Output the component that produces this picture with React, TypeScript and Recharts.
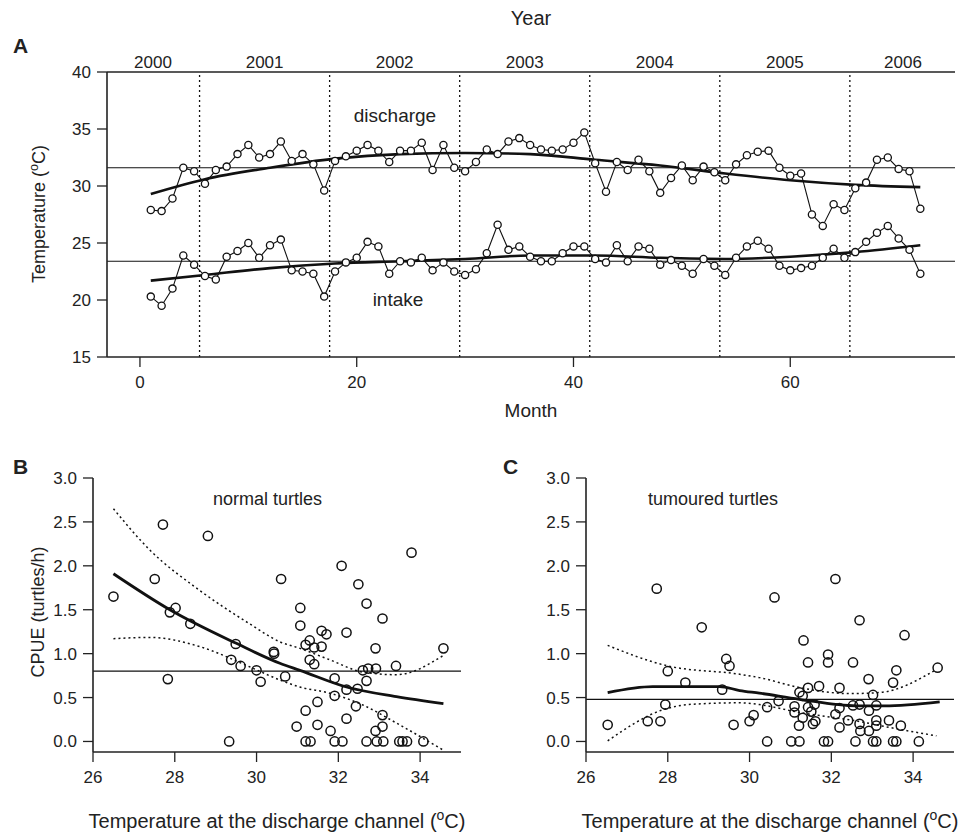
import React from 'react';
import { ComposedChart, Line, Scatter, XAxis, YAxis, ReferenceLine } from 'recharts';

const FONT = '"Liberation Sans", Arial, Helvetica, sans-serif';
const INK = '#222';

// ---- panel A: monthly temperatures ----
const months = [
  1, 2, 3, 4, 5, 6, 7, 8, 9, 10, 11, 12, 13, 14, 15, 16, 17, 18, 19, 20, 21, 22, 23, 24,
  25, 26, 27, 28, 29, 30, 31, 32, 33, 34, 35, 36, 37, 38, 39, 40, 41, 42, 43, 44, 45, 46, 47, 48,
  49, 50, 51, 52, 53, 54, 55, 56, 57, 58, 59, 60, 61, 62, 63, 64, 65, 66, 67, 68, 69, 70, 71, 72,
];
const discharge = [
  27.9, 27.8, 28.9, 31.6, 31.3, 30.2, 31.4, 31.7, 32.8, 33.6, 32.5, 32.8,
  33.9, 32.2, 32.8, 31.9, 29.6, 32.2, 32.6, 33.1, 33.6, 33.1, 32.1, 33.1,
  33.1, 33.8, 31.4, 33.6, 31.6, 31.3, 32.1, 33.2, 32.8, 33.9, 34.2, 33.6,
  33.2, 33.1, 33.2, 33.8, 34.7, 32.0, 29.5, 32.1, 31.4, 32.3, 31.3, 29.4,
  30.7, 31.8, 30.5, 31.7, 31.2, 30.5, 31.9, 32.7, 33.0, 33.1, 31.6, 30.9,
  31.1, 27.5, 26.5, 28.4, 27.9, 29.8, 30.3, 32.3, 32.5, 31.5, 31.3, 28.0,
];
const intake = [
  20.3, 19.5, 21.0, 23.9, 23.1, 22.1, 21.8, 23.8, 24.3, 25.0, 23.7, 24.8,
  25.3, 22.6, 22.5, 22.3, 20.3, 22.5, 23.3, 23.7, 25.1, 24.7, 22.3, 23.4,
  23.3, 23.7, 22.6, 23.3, 22.5, 22.2, 22.7, 24.1, 26.6, 24.4, 24.7, 23.8,
  23.4, 23.4, 24.1, 24.7, 24.7, 23.6, 23.3, 24.8, 23.4, 24.7, 24.5, 23.1,
  23.5, 23.0, 22.3, 23.6, 23.0, 22.2, 23.7, 24.7, 25.2, 24.5, 23.0, 22.6,
  22.8, 23.0, 23.7, 24.5, 23.7, 24.2, 25.1, 25.9, 26.5, 25.4, 24.4, 22.3,
];
const smoothMonths = [1, 6, 12, 18, 24, 30, 36, 42, 48, 54, 60, 66, 72];
const dischargeSmooth = [29.3, 30.6, 31.6, 32.4, 32.8, 32.9, 32.8, 32.3, 31.8, 31.1, 30.5, 30.1, 29.9];
const intakeSmooth = [21.7, 22.2, 22.8, 23.2, 23.4, 23.6, 23.9, 23.9, 23.7, 23.6, 23.8, 24.2, 24.8];
const dischargeMean = 31.6;
const intakeMean = 23.4;
const yearBreaks = [5.5, 17.5, 29.5, 41.5, 53.5, 65.5];
const yearLabels = ['2000', '2001', '2002', '2003', '2004', '2005', '2006'];
const yearCentres = [1.2, 11.5, 23.5, 35.5, 47.5, 59.5, 70.4];
const monthTicks = [0, 20, 40, 60];
const tempTicks = [15, 20, 25, 30, 35, 40];

// ---- panel B: normal turtles ----
const normalTemp = [
  26.5, 27.51, 27.71, 27.83, 27.88, 28.02, 28.38, 28.81, 29.33, 29.38, 29.49, 29.61,
  30.0, 30.1, 30.42, 30.43, 30.6, 30.7, 30.98, 31.07, 31.07, 31.2, 31.2, 31.2,
  31.3, 31.3, 31.32, 31.41, 31.41, 31.49, 31.49, 31.59, 31.59, 31.71, 31.81, 31.91,
  31.91, 31.91, 32.08, 32.1, 32.2, 32.2, 32.2, 32.43, 32.47, 32.49, 32.6, 32.69,
  32.69, 32.69, 32.73, 32.91, 32.91, 32.92, 32.94, 33.08, 33.08, 33.08, 33.1, 33.41,
  33.49, 33.57, 33.68, 33.79, 34.08, 34.57,
];
const normalCpue = [
  1.65, 1.85, 2.47, 0.71, 1.47, 1.52, 1.34, 2.34, 0.0, 0.93, 1.11, 0.86,
  0.81, 0.68, 1.02, 1.0, 1.85, 0.74, 0.17, 1.52, 1.32, 1.1, 0.35, 0.0,
  1.15, 0.93, 0.0, 1.07, 0.88, 0.45, 0.19, 1.26, 1.08, 1.22, 0.12, 0.72,
  0.52, 0.0, 2.0, 0.0, 1.24, 0.59, 0.26, 0.4, 0.6, 1.79, 0.81, 1.57,
  0.69, 0.0, 0.83, 1.06, 0.12, 0.83, 0.0, 1.4, 0.3, 0.17, 0.0, 0.86,
  0.0, 0.0, 0.0, 2.15, 0.0, 1.06,
];
const normalMean = 0.8;
const normalFitTemp = [26.5, 27.88, 29.49, 30.57, 31.06, 32.2, 33.42, 34.57];
const normalFit = [1.91, 1.5, 1.12, 0.89, 0.81, 0.62, 0.51, 0.43];
const normalBandTemp = [26.5, 27.39, 28.61, 29.83, 30.57, 31.06, 31.79, 32.6, 33.42, 34.57];
const normalUpper = [2.65, 2.18, 1.72, 1.34, 1.135, 1.06, 0.93, 0.79, 0.76, 0.98];
const normalLower = [1.17, 1.185, 1.08, 0.85, 0.7, 0.62, 0.55, 0.415, 0.21, -0.1];

// ---- panel C: tumoured turtles ----
const tumourTemp = [
  26.53, 27.51, 27.73, 27.82, 27.94, 28.0, 28.43, 28.83, 29.33, 29.43, 29.51, 29.61,
  30.0, 30.1, 30.43, 30.43, 30.61, 30.71, 31.02, 31.1, 31.1, 31.21, 31.22, 31.22,
  31.3, 31.3, 31.32, 31.43, 31.43, 31.43, 31.51, 31.55, 31.59, 31.61, 31.7, 31.82,
  31.92, 31.92, 31.92, 32.1, 32.1, 32.2, 32.2, 32.2, 32.41, 32.53, 32.53, 32.59,
  32.69, 32.69, 32.69, 32.71, 32.91, 32.92, 32.92, 33.02, 33.02, 33.1, 33.1, 33.1,
  33.1, 33.41, 33.51, 33.51, 33.59, 33.59, 33.7, 33.79, 34.14, 34.6,
];
const tumourCpue = [
  0.19, 0.23, 1.74, 0.23, 0.42, 0.8, 0.67, 1.3, 0.59, 0.94, 0.86, 0.19,
  0.23, 0.3, 0.39, 0.0, 1.64, 0.46, 0.0, 0.4, 0.33, 0.18, 0.56, 0.0,
  0.52, 0.27, 1.15, 0.9, 0.61, 0.39, 0.34, 0.2, 0.42, 0.23, 0.63, 0.0,
  0.99, 0.9, 0.0, 1.85, 0.31, 0.61, 0.38, 0.16, 0.24, 0.9, 0.41, 0.0,
  1.38, 0.42, 0.2, 0.12, 0.71, 0.35, 0.12, 0.53, 0.0, 0.41, 0.24, 0.18,
  0.0, 0.24, 0.67, 0.0, 0.81, 0.0, 0.18, 1.21, 0.0, 0.84,
];
const tumourMean = 0.48;
const tumourFitTemp = [26.53, 27.63, 29.27, 29.76, 30.24, 31.22, 32.61, 33.3, 34.65];
const tumourFit = [0.557, 0.625, 0.625, 0.58, 0.55, 0.48, 0.405, 0.405, 0.45];
const tumourUpperTemp = [26.53, 28.0, 29.76, 30.24, 31.22, 32.45, 33.18, 34.57];
const tumourUpper = [1.094, 0.86, 0.765, 0.727, 0.614, 0.545, 0.557, 0.82];
const tumourLowerTemp = [26.53, 27.92, 28.61, 29.76, 30.24, 31.22, 32.61, 33.43, 34.57];
const tumourLower = [0.007, 0.367, 0.424, 0.44, 0.42, 0.33, 0.234, 0.159, 0.064];

const tempAxisTicks = [26, 28, 30, 32, 34];
const cpueTicks = [0, 0.5, 1, 1.5, 2, 2.5, 3];

const pairs = (xs: number[], ys: number[]) => xs.map((t, i) => ({ t, v: ys[i] }));

const monthRows = months.map((m, i) => {
  const k = smoothMonths.indexOf(m);
  return {
    month: m,
    discharge: discharge[i],
    intake: intake[i],
    dSmooth: k >= 0 ? dischargeSmooth[k] : null,
    iSmooth: k >= 0 ? intakeSmooth[k] : null,
  };
});

const tickStyle = { fill: INK, fontSize: 17, fontFamily: FONT };
const tickLineStyle = { stroke: INK, strokeWidth: 1.3 };
const boxLine = { stroke: INK, strokeWidth: 1.6 };
const pointDot = { r: 3.6, fill: '#fff', stroke: '#111', strokeWidth: 1.3 };

const ring = (props: any) => (
  <circle cx={props.cx} cy={props.cy} r={4.6} fill="none" stroke="#111" strokeWidth={1.5} />
);

const txt = (style: React.CSSProperties): React.CSSProperties => ({
  position: 'absolute',
  fontFamily: FONT,
  color: INK,
  whiteSpace: 'nowrap',
  lineHeight: 1,
  ...style,
});

function PanelA() {
  return (
    <ComposedChart
      width={973}
      height={400}
      data={monthRows}
      margin={{ top: 42, right: 18, bottom: 13, left: 47 }}
    >
      <XAxis
        dataKey="month"
        type="number"
        domain={[-3.04, 75.2]}
        allowDataOverflow
        ticks={monthTicks}
        tick={tickStyle}
        tickSize={10}
        tickMargin={9}
        tickLine={tickLineStyle}
        axisLine={boxLine}
        height={30}
      />
      <XAxis
        xAxisId="top"
        orientation="top"
        dataKey="month"
        type="number"
        domain={[-3.04, 75.2]}
        allowDataOverflow
        ticks={yearCentres}
        tickFormatter={(_v: number, i: number) => yearLabels[i]}
        tick={tickStyle}
        tickSize={0}
        tickMargin={4}
        tickLine={false}
        axisLine={boxLine}
        height={30}
      />
      <YAxis
        type="number"
        domain={[15, 40]}
        allowDataOverflow
        ticks={tempTicks}
        tick={tickStyle}
        tickSize={10}
        tickMargin={6}
        tickLine={tickLineStyle}
        axisLine={boxLine}
        width={60}
      />
      <YAxis yAxisId="r" orientation="right" domain={[15, 40]} tick={false} tickLine={false} axisLine={boxLine} width={0} />
      {yearBreaks.map((b) => (
        <ReferenceLine key={b} x={b} stroke="#111" strokeWidth={1.3} strokeDasharray="2 3" />
      ))}
      <ReferenceLine y={dischargeMean} stroke="#111" strokeWidth={1.2} />
      <ReferenceLine y={intakeMean} stroke="#111" strokeWidth={1.2} />
      <Line dataKey="discharge" type="linear" stroke="#111" strokeWidth={1.1} dot={pointDot} isAnimationActive={false} />
      <Line dataKey="intake" type="linear" stroke="#111" strokeWidth={1.1} dot={pointDot} isAnimationActive={false} />
      <Line dataKey="dSmooth" type="monotone" connectNulls stroke="#111" strokeWidth={2.6} dot={false} isAnimationActive={false} />
      <Line dataKey="iSmooth" type="monotone" connectNulls stroke="#111" strokeWidth={2.6} dot={false} isAnimationActive={false} />
    </ComposedChart>
  );
}

function CpuePanel(props: {
  temp: number[];
  cpue: number[];
  mean: number;
  fit: { t: number; v: number }[];
  upper: { t: number; v: number }[];
  lower: { t: number; v: number }[];
}) {
  return (
    <ComposedChart width={480} height={360} margin={{ top: 38, right: 19, bottom: 18, left: 33 }}>
      <XAxis
        dataKey="t"
        type="number"
        domain={[26, 35]}
        allowDataOverflow
        ticks={tempAxisTicks}
        tick={tickStyle}
        tickSize={10}
        tickMargin={9}
        tickLine={tickLineStyle}
        axisLine={boxLine}
        height={30}
      />
      <XAxis xAxisId="top" orientation="top" dataKey="t" type="number" domain={[26, 35]} tick={false} tickLine={false} axisLine={boxLine} height={0} />
      <YAxis
        dataKey="v"
        type="number"
        domain={[-0.12, 3]}
        allowDataOverflow
        ticks={cpueTicks}
        tickFormatter={(v: number) => v.toFixed(1)}
        tick={tickStyle}
        tickSize={10}
        tickMargin={6}
        tickLine={tickLineStyle}
        axisLine={boxLine}
        width={60}
      />
      <YAxis yAxisId="r" orientation="right" domain={[-0.12, 3]} tick={false} tickLine={false} axisLine={boxLine} width={0} />
      <ReferenceLine y={props.mean} stroke="#111" strokeWidth={1.3} />
      <Scatter data={pairs(props.temp, props.cpue)} dataKey="v" shape={ring} isAnimationActive={false} />
      <Line data={props.upper} dataKey="v" type="monotone" stroke="#111" strokeWidth={1.5} strokeDasharray="2 3" dot={false} isAnimationActive={false} />
      <Line data={props.lower} dataKey="v" type="monotone" stroke="#111" strokeWidth={1.5} strokeDasharray="2 3" dot={false} isAnimationActive={false} />
      <Line data={props.fit} dataKey="v" type="monotone" stroke="#111" strokeWidth={2.8} dot={false} isAnimationActive={false} />
    </ComposedChart>
  );
}

const degC = (
  <>
    (<sup style={{ fontSize: '0.7em' }}>o</sup>C)
  </>
);

export default function App() {
  return (
    <div style={{ position: 'absolute', left: 0, top: 0, width: 973, height: 835, background: '#fff', overflow: 'hidden' }}>
      <div style={{ position: 'absolute', left: 0, top: 0 }}>
        <PanelA />
      </div>
      <div style={{ position: 'absolute', left: 0, top: 440 }}>
        <CpuePanel
          temp={normalTemp}
          cpue={normalCpue}
          mean={normalMean}
          fit={pairs(normalFitTemp, normalFit)}
          upper={pairs(normalBandTemp, normalUpper)}
          lower={pairs(normalBandTemp, normalLower)}
        />
      </div>
      <div style={{ position: 'absolute', left: 493, top: 440 }}>
        <CpuePanel
          temp={tumourTemp}
          cpue={tumourCpue}
          mean={tumourMean}
          fit={pairs(tumourFitTemp, tumourFit)}
          upper={pairs(tumourUpperTemp, tumourUpper)}
          lower={pairs(tumourLowerTemp, tumourLower)}
        />
      </div>

      <div style={txt({ left: 13, top: 35, fontSize: 21, fontWeight: 'bold' })}>A</div>
      <div style={txt({ left: 531, top: 8, fontSize: 20, transform: 'translateX(-50%)' })}>Year</div>
      <div style={txt({ left: 531, top: 401, fontSize: 19, transform: 'translateX(-50%)' })}>Month</div>
      <div style={txt({ left: 38, top: 214, fontSize: 18, transform: 'translate(-50%, -50%) rotate(-90deg)' })}>
        Temperature {degC}
      </div>
      <div style={txt({ left: 395, top: 106, fontSize: 19, transform: 'translateX(-50%)' })}>discharge</div>
      <div style={txt({ left: 398, top: 290, fontSize: 19, transform: 'translateX(-50%)' })}>intake</div>

      <div style={txt({ left: 13, top: 456, fontSize: 21, fontWeight: 'bold' })}>B</div>
      <div style={txt({ left: 503, top: 456, fontSize: 21, fontWeight: 'bold' })}>C</div>
      <div style={txt({ left: 213, top: 490, fontSize: 18 })}>normal turtles</div>
      <div style={txt({ left: 648, top: 490, fontSize: 18 })}>tumoured turtles</div>
      <div style={txt({ left: 38, top: 612, fontSize: 18, transform: 'translate(-50%, -50%) rotate(-90deg)' })}>
        CPUE (turtles/h)
      </div>
      <div style={txt({ left: 277, top: 808, fontSize: 20, transform: 'translateX(-50%)' })}>
        Temperature at the discharge channel {degC}
      </div>
      <div style={txt({ left: 770, top: 808, fontSize: 20, transform: 'translateX(-50%)' })}>
        Temperature at the discharge channel {degC}
      </div>
    </div>
  );
}
